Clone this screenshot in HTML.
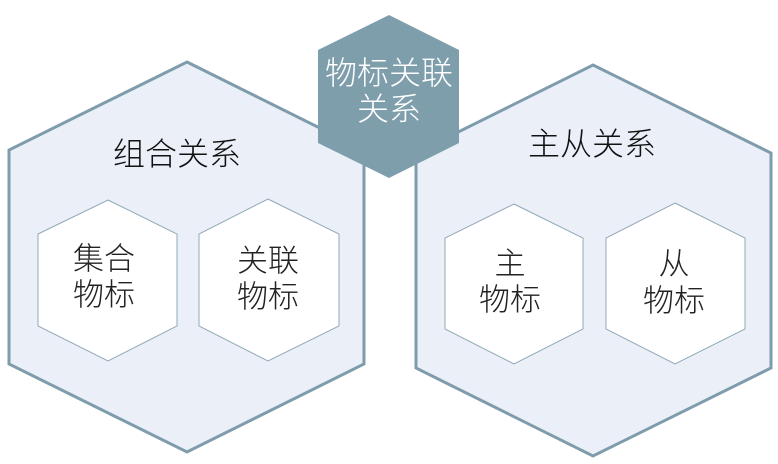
<!DOCTYPE html>
<html><head><meta charset="utf-8"><style>
html,body{margin:0;padding:0;background:#fff;width:778px;height:464px;overflow:hidden}
svg text{font-family:"Liberation Sans","Noto Sans CJK SC",sans-serif;font-weight:300;text-anchor:middle;dominant-baseline:central}
</style></head><body>
<svg width="778" height="464" viewBox="0 0 778 464" xmlns="http://www.w3.org/2000/svg">
<polygon points="187,62 364,150 364,364 187,452 9,364 9,150" fill="#ebf0f8" stroke="#7f9cac" stroke-width="3"/>
<polygon points="593,65 771,153 771,368 593,456 416,368 416,153" fill="#ebf0f8" stroke="#7f9cac" stroke-width="3"/>
<polygon points="108,200 177,234 177,326 108,361 38,326 38,234" fill="#fff" stroke="#8fa8b8" stroke-width="1"/>
<polygon points="268,199 339,234 339,326 268,361 199,326 199,234" fill="#fff" stroke="#8fa8b8" stroke-width="1"/>
<polygon points="514,204 583,238 583,329 514,364 445,329 445,238" fill="#fff" stroke="#8fa8b8" stroke-width="1"/>
<polygon points="675,203 745,238 745,329 675,364 606,329 606,238" fill="#fff" stroke="#8fa8b8" stroke-width="1"/>
<polygon points="389,15 459,50 459,143 389,178 318,143 318,50" fill="#7f9eac"/>
<g font-size="32" fill="#fff">
<text x="389" y="73">物标关联</text>
<text x="389" y="109">关系</text>
</g>
<g font-size="32" fill="#111">
<text x="177" y="154">组合关系</text>
<text x="592" y="144">主从关系</text>
</g>
<g font-size="31" fill="#222">
<text x="104" y="259">集合</text><text x="104" y="295">物标</text>
<text x="268" y="261">关联</text><text x="268" y="297">物标</text>
<text x="510" y="264">主</text><text x="510" y="300">物标</text>
<text x="674" y="264">从</text><text x="674" y="301">物标</text>
</g>
</svg>
</body></html>
